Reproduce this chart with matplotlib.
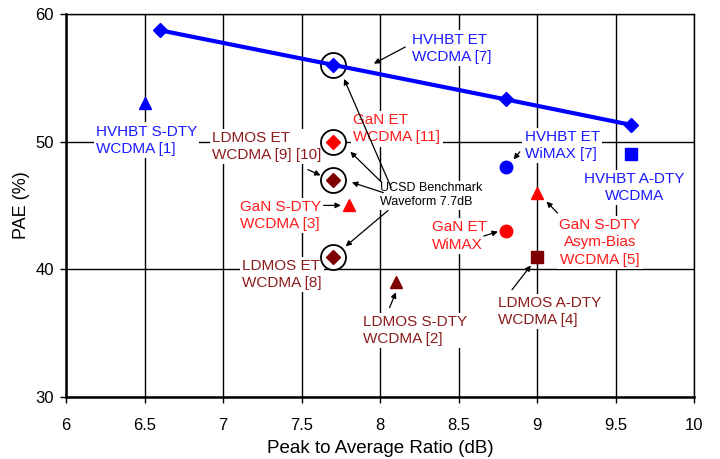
import matplotlib

matplotlib.use("Agg")
import matplotlib.pyplot as plt  # noqa: E402

plt.rcParams["font.family"] = ["Liberation Sans", "DejaVu Sans"]

BLUE = "#0000ff"
RED = "#ff0000"
DARK = "#7f0000"
BLUE_TXT = "#1a1aff"
RED_TXT = "#ff1a1a"
DARK_TXT = "#8b1c1c"

# HVHBT ET WCDMA trend line
et_par = [6.6, 7.7, 8.8, 9.6]
et_pae = [58.7, 56.0, 53.3, 51.3]

# single points
pt_names = ["HVHBT S-DTY", "HVHBT ET WiMAX", "HVHBT A-DTY", "GaN ET WCDMA",
            "LDMOS ET WCDMA [9][10]", "GaN S-DTY", "LDMOS ET WCDMA [8]",
            "LDMOS S-DTY", "GaN ET WiMAX", "LDMOS A-DTY", "GaN S-DTY Asym"]
pt_par = [6.5, 8.8, 9.6, 7.7, 7.7, 7.8, 7.7, 8.1, 8.8, 9.0, 9.0]
pt_pae = [53.0, 48.0, 49.0, 50.0, 47.0, 45.0, 41.0, 39.0, 43.0, 41.0, 46.0]
pt_marker = ["^", "o", "s", "D", "D", "^", "D", "^", "o", "s", "^"]
pt_color = [BLUE, BLUE, BLUE, RED, DARK, RED, DARK, DARK, RED, DARK, RED]

# benchmark circles (7.7 dB)
bench_par = [7.7, 7.7, 7.7, 7.7]
bench_pae = [56.0, 50.0, 47.0, 41.0]

# labels: text, x, y, ha, colour
labels = [
    ("HVHBT ET\nWCDMA [7]", 8.2, 57.3, "left", BLUE_TXT),
    ("HVHBT S-DTY\nWCDMA [1]", 6.19, 50.1, "left", BLUE_TXT),
    ("LDMOS ET\nWCDMA [9] [10]", 6.93, 49.6, "left", DARK_TXT),
    ("GaN ET\nWCDMA [11]", 7.83, 51.0, "left", RED_TXT),
    ("GaN S-DTY\nWCDMA [3]", 7.11, 44.2, "left", RED_TXT),
    ("LDMOS ET\nWCDMA [8]", 7.12, 39.6, "left", DARK_TXT),
    ("HVHBT ET\nWiMAX [7]", 8.92, 49.7, "left", BLUE_TXT),
    ("HVHBT A-DTY\nWCDMA", 9.62, 46.4, "center", BLUE_TXT),
    ("GaN S-DTY\nAsym-Bias\nWCDMA [5]", 9.4, 42.1, "center", RED_TXT),
    ("GaN ET\nWiMAX", 8.33, 42.6, "left", RED_TXT),
    ("LDMOS S-DTY\nWCDMA [2]", 7.89, 35.2, "left", DARK_TXT),
    ("LDMOS A-DTY\nWCDMA [4]", 8.75, 36.7, "left", DARK_TXT),
]

# arrows: (tail, tip)
arrows = [
    ((8.16, 57.4), (7.96, 56.1)),
    ((7.54, 47.8), (7.62, 47.35)),
    ((7.64, 45.0), (7.75, 45.0)),
    ((8.89, 49.2), (8.85, 48.6)),
    ((9.13, 44.4), (9.06, 45.3)),
    ((8.66, 42.6), (8.75, 42.95)),
    ((8.06, 37.0), (8.10, 38.2)),
    ((8.84, 38.4), (8.96, 40.3)),
    # from the UCSD benchmark note
    ((8.07, 46.4), (7.77, 54.9)),
    ((8.01, 46.8), (7.81, 49.2)),
    ((8.02, 46.0), (7.82, 46.8)),
    ((8.05, 44.6), (7.78, 41.8)),
]

fig = plt.figure(figsize=(7.2, 4.59), dpi=100)
ax = fig.add_axes([0.092, 0.135, 0.872, 0.835])

ax.set_xlim(6, 10)
ax.set_ylim(30, 60)
ax.set_xticks([6, 6.5, 7, 7.5, 8, 8.5, 9, 9.5, 10])
ax.set_xticklabels(["6", "6.5", "7", "7.5", "8", "8.5", "9", "9.5", "10"])
ax.set_yticks([30, 40, 50, 60])
ax.tick_params(direction="out", length=4, width=1, labelsize=12, colors="black")
ax.tick_params(axis="x", pad=11)
ax.tick_params(axis="y", pad=5)
ax.grid(True, color="black", linewidth=1.0)
ax.set_axisbelow(True)
for side in ["top", "right"]:
    ax.spines[side].set_linewidth(1.0)
for side in ["bottom", "left"]:
    ax.spines[side].set_linewidth(1.8)

ax.set_xlabel("Peak to Average Ratio (dB)", fontsize=13.5, labelpad=5)
ax.set_ylabel("PAE (%)", fontsize=13, labelpad=4)

# benchmark circles
ax.plot(bench_par, bench_pae, "o", ms=18, mfc="white", mec="black", mew=1.3,
        linestyle="none", zorder=3)

ax.plot(et_par, et_pae, "-D", color=BLUE, lw=3, ms=7, zorder=5)

for x, y, m, c in zip(pt_par, pt_pae, pt_marker, pt_color):
    ms = 7 if m == "D" else 9
    ax.plot(x, y, marker=m, color=c, ms=ms, linestyle="none", zorder=5)

for txt, x, y, ha, c in labels:
    ax.text(x, y, txt, ha=ha, va="center", color=c, fontsize=11, linespacing=1.3,
            zorder=2, bbox=dict(facecolor="white", edgecolor="none", pad=1.5))

ax.text(8.0, 45.8, "UCSD Benchmark\nWaveform 7.7dB", ha="left", va="center",
        color="black", fontsize=9, linespacing=1.25, zorder=2,
        bbox=dict(facecolor="white", edgecolor="none", pad=1.0))

for tail, tip in arrows:
    ax.annotate("", xy=tip, xytext=tail, zorder=4,
                arrowprops=dict(arrowstyle="-|>", color="black", lw=0.9,
                                mutation_scale=8, shrinkA=0, shrinkB=0))

fig.savefig("out.png", dpi=100)
